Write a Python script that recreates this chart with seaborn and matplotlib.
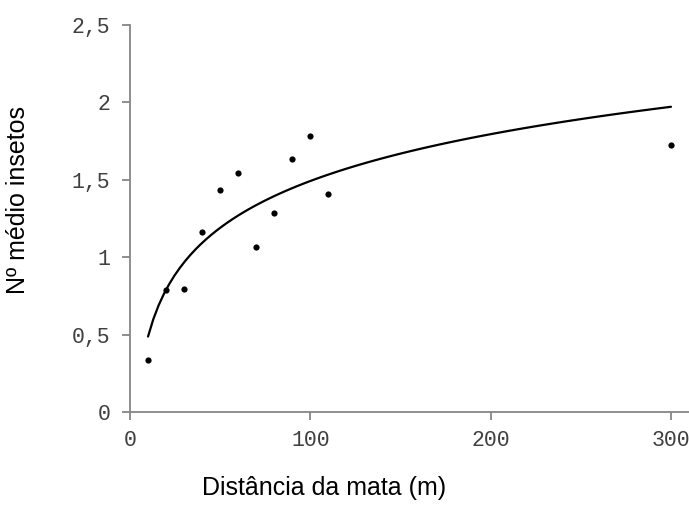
import numpy as np
import pandas as pd
import matplotlib
matplotlib.use("Agg")
import matplotlib.pyplot as plt
import seaborn as sns
from matplotlib.ticker import FuncFormatter

# distance from forest (m) and mean number of insects
distancia = [10, 20, 30, 40, 50, 60, 70, 80, 90, 100, 110, 300]
insetos = [0.335, 0.787, 0.795, 1.166, 1.437, 1.546, 1.066, 1.286, 1.637, 1.785, 1.406, 1.725]

df = pd.DataFrame({"dist": distancia, "ins": insetos})

sns.set_style("white")
axis_gray = "#868686"
text_gray = "#404040"

fig = plt.figure(figsize=(6.89, 5.25), dpi=100)
ax = fig.add_axes([130 / 689, 1 - 412 / 525, 559 / 689, 387 / 525])

# log trendline, like the spreadsheet's logarithmic fit
sns.regplot(
    data=df, x="dist", y="ins", ax=ax, logx=True, ci=None,
    scatter_kws={"s": 20, "color": "black", "linewidths": 0, "alpha": 1},
    line_kws={"color": "black", "linewidth": 1.6},
)

ax.set_xlim(0, 310)
ax.set_ylim(0, 2.5)
ax.set_xticks([0, 100, 200, 300])
ax.set_yticks([0, 0.5, 1, 1.5, 2, 2.5])
ax.yaxis.set_major_formatter(FuncFormatter(lambda v, p: f"{v:g}".replace(".", ",")))

for side in ["top", "right"]:
    ax.spines[side].set_visible(False)
for side in ["left", "bottom"]:
    ax.spines[side].set_color(axis_gray)
    ax.spines[side].set_linewidth(1.3)

ax.tick_params(axis="both", direction="out", length=6, width=1.3, color=axis_gray,
               labelcolor=text_gray, labelsize=15.5, left=True, bottom=True)
ax.tick_params(axis="y", pad=8)
ax.tick_params(axis="x", pad=7)
for lbl in ax.get_xticklabels() + ax.get_yticklabels():
    lbl.set_family("Liberation Mono")

ax.set_xlabel("")
ax.set_ylabel("")
fig.text(324 / 689, 1 - 488 / 525, "Distância da mata (m)", ha="center", va="center",
         fontsize=18, family="Liberation Sans", color="black")
fig.text(18 / 689, 1 - 200 / 525, "Nº médio insetos", ha="center", va="center",
         rotation=90, fontsize=18, family="Liberation Sans", color="black")

fig.savefig("out.png", dpi=100)
